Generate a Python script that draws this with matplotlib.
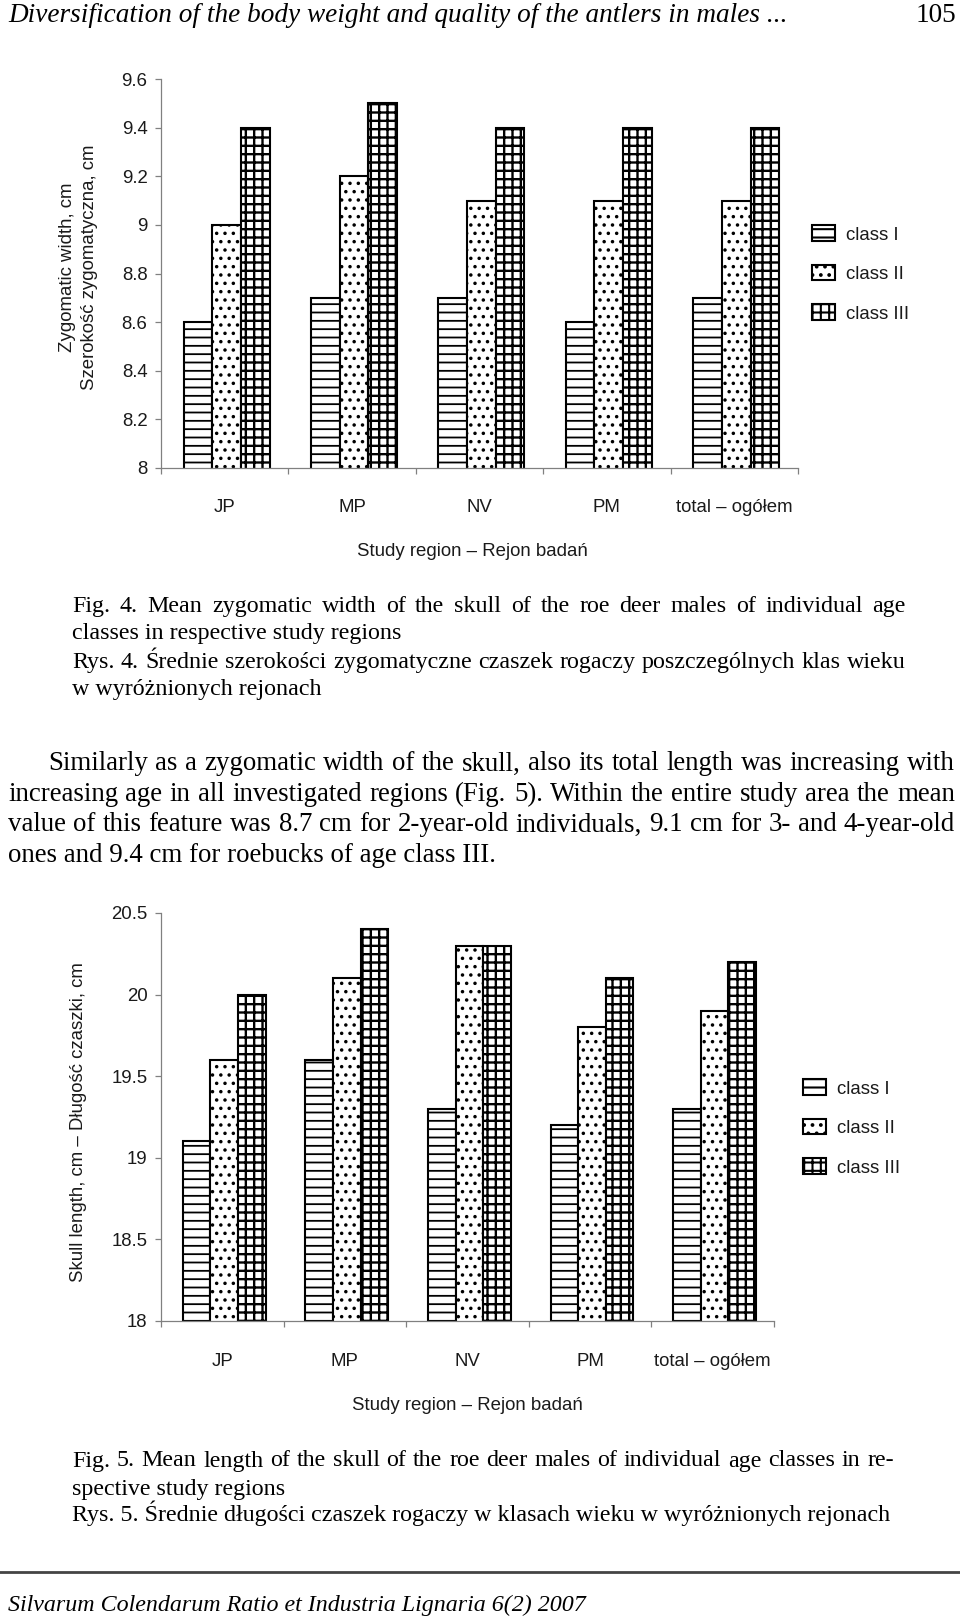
import matplotlib
matplotlib.use('Agg')
import matplotlib.pyplot as plt
import numpy as np

# ---------------- data ----------------
regions = ['JP', 'MP', 'NV', 'PM', 'total – ogółem']
classes = ['class I', 'class II', 'class III']

zyg_class_I = [8.6, 8.7, 8.7, 8.6, 8.7]
zyg_class_II = [9.0, 9.2, 9.1, 9.1, 9.1]
zyg_class_III = [9.4, 9.5, 9.4, 9.4, 9.4]
zyg_ticks = [8, 8.2, 8.4, 8.6, 8.8, 9, 9.2, 9.4, 9.6]

skull_class_I = [19.1, 19.6, 19.3, 19.2, 19.3]
skull_class_II = [19.6, 20.1, 20.3, 19.8, 19.9]
skull_class_III = [20.0, 20.4, 20.3, 20.1, 20.2]
skull_ticks = [18, 18.5, 19, 19.5, 20, 20.5]

header_text = 'Diversification of the body weight and quality of the antlers in males ...'
page_no = '105'
footer_text = 'Silvarum Colendarum Ratio et Industria Lignaria 6(2) 2007'

cap4 = ['Fig. 4. Mean zygomatic width of the skull of the roe deer males of individual age',
        'classes in respective study regions',
        'Rys. 4. Średnie szerokości zygomatyczne czaszek rogaczy poszczególnych klas wieku',
        'w wyróżnionych rejonach']
para = ['Similarly as a zygomatic width of the skull, also its total length was increasing with',
        'increasing age in all investigated regions (Fig. 5). Within the entire study area the mean',
        'value of this feature was 8.7 cm for 2-year-old individuals, 9.1 cm for 3- and 4-year-old',
        'ones and 9.4 cm for roebucks of age class III.']
cap5 = ['Fig. 5. Mean length of the skull of the roe deer males of individual age classes in re-',
        'spective study regions',
        'Rys. 5. Średnie długości czaszek rogaczy w klasach wieku w wyróżnionych rejonach']

# ---------------- figure ----------------
W, H = 960, 1622
plt.rcParams['hatch.color'] = 'black'
plt.rcParams['hatch.linewidth'] = 1.5
fig = plt.figure(figsize=(W / 100, H / 100), dpi=100)
fig.patch.set_facecolor('white')
renderer = fig.canvas.get_renderer()

SANS = 'Liberation Sans'
SERIF = 'Liberation Serif'
CH_SIZE = 13.4
GRAY = '#808080'
TXT = '#1a1a1a'


def fx(x):
    return x / W


def fy(y):
    return 1 - y / H


def text_width(s, **kw):
    t = fig.text(0, 0, s, **kw)
    w = t.get_window_extent(renderer).width
    t.remove()
    return w


def fit_size(s, target, **kw):
    return 10 * target / text_width(s, size=10, **kw)


def baseline_shift(size, **kw):
    # pixels from the centre of a full-height line box down to its baseline
    t = fig.text(0, 0.5, 'Hlpg', va='baseline', size=size, **kw)
    bb = t.get_window_extent(renderer)
    t.remove()
    return 0.5 * H - (bb.y0 + bb.y1) / 2 + 0.0 if False else (bb.y0 + bb.y1) / 2 - 0.5 * H


def put(x, y, s, size, ha='left', **kw):
    sh = baseline_shift(size, **kw)
    fig.text(fx(x), fy(y) - sh / H, s, ha=ha, va='baseline', size=size, color='black', **kw)


def justify(line, x0, x1, y, size, **kw):
    words = line.split(' ')
    ws = [text_width(w, size=size, **kw) for w in words]
    gap = (x1 - x0 - sum(ws)) / (len(words) - 1)
    x = x0
    for w, wd in zip(words, ws):
        put(x, y, w, size, **kw)
        x += wd + gap


def chart(rect_px, series, ticks, ylabels, xlabel_pos, legend_pos, label_off):
    l, r, t, b = rect_px
    ax = fig.add_axes([fx(l), fy(b), (r - l) / W, (b - t) / H])
    x = np.arange(len(regions))
    bw = 0.225
    hatches = ['--', '..', '++']
    conts = []
    for k, (vals, hatch) in enumerate(zip(series, hatches)):
        c = ax.bar(x + (k - 1) * bw + 0.015, vals, bw, bottom=0, color='white',
                   edgecolor='black', linewidth=1.5, hatch=hatch, label=classes[k], zorder=2)
        for p in c.patches:
            if hasattr(p, 'set_hatch_linewidth'):
                p.set_hatch_linewidth(1.7 if k == 2 else 1.3)
        conts.append(c)
    ax.set_ylim(ticks[0], ticks[-1])
    ax.set_xlim(-0.5, len(regions) - 0.5)
    ax.set_yticks(ticks)
    ax.set_yticklabels(['%g' % v for v in ticks], fontfamily=SANS, fontsize=CH_SIZE, color=TXT)
    ax.set_xticks(np.arange(len(regions) + 1) - 0.5)
    ax.set_xticklabels([])
    ax.tick_params(axis='both', direction='out', length=4.3, width=0.9, color=GRAY, pad=5.5)
    for s in ['top', 'right']:
        ax.spines[s].set_visible(False)
    for s in ['left', 'bottom']:
        ax.spines[s].set_color(GRAY)
        ax.spines[s].set_linewidth(0.9)
    for i, lab in enumerate(regions):
        ax.annotate(lab, xy=(i, 0), xycoords=('data', 'axes fraction'),
                    xytext=(0, -label_off), textcoords='offset pixels',
                    ha='center', va='center', fontfamily=SANS, fontsize=CH_SIZE, color=TXT)
    fig.text(fx(xlabel_pos[0]), fy(xlabel_pos[1]), 'Study region – Rejon badań',
             ha='center', va='center', fontfamily=SANS, fontsize=CH_SIZE, color=TXT)
    for txt, xx, yy in ylabels:
        fig.text(fx(xx), fy(yy), txt, rotation=90, ha='center', va='center',
                 fontfamily=SANS, fontsize=CH_SIZE, color=TXT)
    fig.legend(handles=conts, labels=classes, loc='center left',
               bbox_to_anchor=(fx(legend_pos[0]), fy(legend_pos[1])),
               frameon=False, handlelength=1.25, handleheight=0.9, labelspacing=1.15,
               handletextpad=0.6, borderpad=0, borderaxespad=0,
               prop={'family': SANS, 'size': CH_SIZE}, labelcolor=TXT)
    return ax


chart((161, 798, 79, 468), [zyg_class_I, zyg_class_II, zyg_class_III], zyg_ticks,
      [('Zygomatic width, cm', 67, 267), ('Szerokość zygomatyczna, cm', 90, 267)],
      (472, 551), (812, 274), 39)

chart((161, 774, 913, 1321), [skull_class_I, skull_class_II, skull_class_III], skull_ticks,
      [('Skull length, cm – Długość czaszki, cm', 79, 1122)],
      (467, 1406), (803, 1128), 41)

# ---------------- page text ----------------
hs = fit_size(header_text, 780, family=SERIF, style='italic')
put(8, 15, header_text, hs, family=SERIF, style='italic')
put(956, 15, page_no, hs, ha='right', family=SERIF)

cs = fit_size(cap5[2], 819, family=SERIF)
justify(cap4[0], 72, 906, 606, cs, family=SERIF)
put(72, 633, cap4[1], cs, family=SERIF)
justify(cap4[2], 72, 906, 662, cs, family=SERIF)
put(72, 689, cap4[3], cs, family=SERIF)

ps = fit_size(para[3], 488, family=SERIF)
justify(para[0], 48, 955, 764, ps, family=SERIF)
justify(para[1], 8, 955, 795, ps, family=SERIF)
justify(para[2], 8, 955, 825, ps, family=SERIF)
put(8, 855, para[3], ps, family=SERIF)

justify(cap5[0], 72, 894, 1461, cs, family=SERIF)
put(72, 1489, cap5[1], cs, family=SERIF)
put(72, 1516, cap5[2], cs, family=SERIF)

fig.add_artist(plt.Line2D([0, 1], [fy(1572), fy(1572)], color='#444444', linewidth=2.0,
                          transform=fig.transFigure))
fs = fit_size(footer_text, 582, family=SERIF, style='italic')
put(8, 1606, footer_text, fs, family=SERIF, style='italic')

fig.savefig('out.png', dpi=100, facecolor='white')
